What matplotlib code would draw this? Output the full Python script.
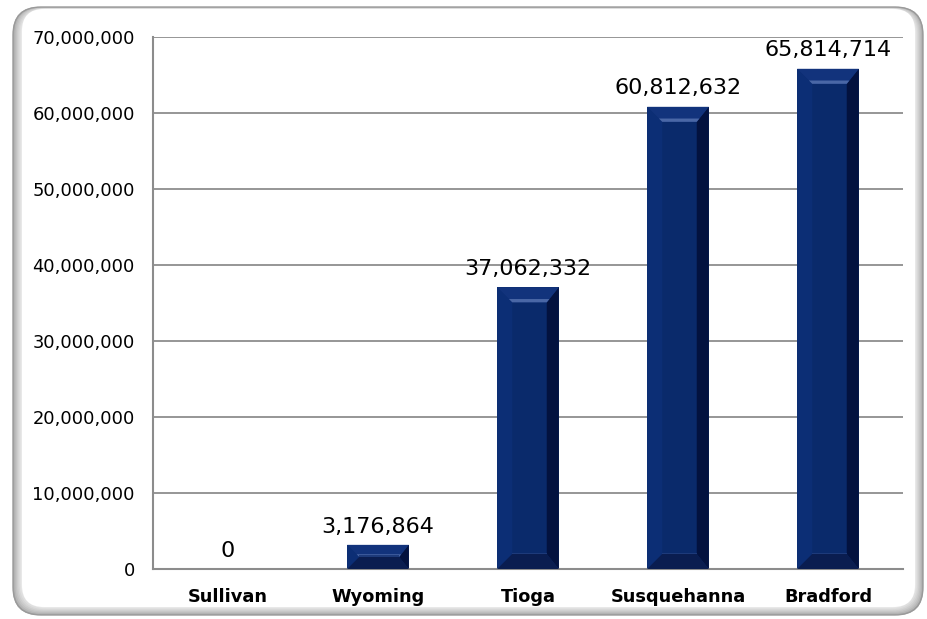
import matplotlib
matplotlib.use("Agg")
import matplotlib.pyplot as plt
from matplotlib.patches import FancyBboxPatch, Polygon
from matplotlib.ticker import FuncFormatter, MultipleLocator

counties = ["Sullivan", "Wyoming", "Tioga", "Susquehanna", "Bradford"]
values = [0, 3176864, 37062332, 60812632, 65814714]
y_max = 70000000
y_step = 10000000

W, H, DPI = 927, 619, 100
plt.rcParams["font.family"] = ["DejaVu Sans"]

fig = plt.figure(figsize=(W / DPI, H / DPI), dpi=DPI)
fig.patch.set_facecolor("white")

# Rounded panel with a soft grey bevel on the sides and bottom
bg = fig.add_axes([0, 0, 1, 1], zorder=0)
bg.set_xlim(0, W)
bg.set_ylim(H, 0)
bg.axis("off")
shades = ["#a8a8a8", "#b6b6b6", "#c2c2c2", "#cccccc", "#d6d6d6", "#dfdfdf", "#e8e8e8", "#f2f2f2"]
outer = (13, 7, 923, 615)
inner = (22, 9, 915, 607)
n = len(shades)
for i, c in enumerate(shades):
    t = i / (n - 1)
    x0 = outer[0] + (inner[0] - outer[0]) * t
    y0 = outer[1] + (inner[1] - outer[1]) * t
    x1 = outer[2] + (inner[2] - outer[2]) * t
    y1 = outer[3] + (inner[3] - outer[3]) * t
    bg.add_patch(FancyBboxPatch((x0, y0), x1 - x0, y1 - y0,
                                boxstyle="round,pad=0,rounding_size=26",
                                facecolor=c, edgecolor="none"))
bg.add_patch(FancyBboxPatch((outer[0], outer[1]), outer[2] - outer[0], outer[3] - outer[1],
                            boxstyle="round,pad=0,rounding_size=28",
                            facecolor="none", edgecolor="#9a9a9a", linewidth=1.0))
bg.add_patch(FancyBboxPatch((inner[0], inner[1]), inner[2] - inner[0], inner[3] - inner[1],
                            boxstyle="round,pad=0,rounding_size=22",
                            facecolor="white", edgecolor="none"))

# Plot area
ax = fig.add_axes([153 / W, 1 - 569 / H, 750 / W, 532 / H], zorder=1)
ax.set_facecolor("none")
ax.set_xlim(-0.5, len(counties) - 0.5)
ax.set_ylim(0, y_max)
ax.yaxis.set_major_locator(MultipleLocator(y_step))
ax.yaxis.set_major_formatter(FuncFormatter(lambda v, p: f"{int(v):,}"))
ax.grid(axis="y", color="#969696", linewidth=1.4, zorder=0)
ax.set_axisbelow(True)
for s in ["top", "right"]:
    ax.spines[s].set_visible(False)
ax.spines["left"].set_color("#8c8c8c")
ax.spines["left"].set_linewidth(1.5)
ax.spines["bottom"].set_color("#8c8c8c")
ax.spines["bottom"].set_linewidth(1.5)
ax.tick_params(axis="y", length=0, pad=13, labelsize=12.9, labelcolor="black")
ax.tick_params(axis="x", length=0, pad=14, labelsize=12.8)
ax.set_xticks(range(len(counties)))
ax.set_xticklabels(counties, fontweight="bold")

bars = ax.bar(range(len(counties)), values, width=0.41, color="#0a2a6b",
              edgecolor="none", zorder=2)

# Bevelled face on each bar, built from the bar's own extent
fig.canvas.draw()
to_disp = ax.transData
to_data = ax.transData.inverted()
for rect in bars:
    h = rect.get_height()
    if h <= 0:
        continue
    (px0, py0) = to_disp.transform((rect.get_x(), 0))
    (px1, py1) = to_disp.transform((rect.get_x() + rect.get_width(), h))
    b = min(15.0, (py1 - py0) / 2.0, (px1 - px0) / 2.0)
    br = b * 0.8

    def poly(pts, color, z=3):
        ax.add_patch(Polygon([to_data.transform(p) for p in pts], closed=True,
                             facecolor=color, edgecolor="none", zorder=z))

    # left and right sides
    poly([(px0, py0), (px0 + b, py0 + b), (px0 + b, py1 - b), (px0, py1)], "#0c2e75")
    poly([(px1, py0), (px1 - br, py0 + b), (px1 - br, py1 - b), (px1, py1)], "#03123f")
    # top and bottom facets
    poly([(px0, py1), (px1, py1), (px1 - br, py1 - b), (px0 + b, py1 - b)], "#12337c")
    poly([(px0, py0), (px1, py0), (px1 - br, py0 + b), (px0 + b, py0 + b)], "#0a1d50")
    # light edge where the top facet meets the face
    hl = b * 0.22
    poly([(px0 + b - hl, py1 - b + hl), (px1 - br + hl * 0.8, py1 - b + hl),
          (px1 - br, py1 - b), (px0 + b, py1 - b)], "#4a67a6", z=4)
    poly([(px0 + b, py0 + b), (px1 - br, py0 + b), (px1 - br, py0 + b + 1.5),
          (px0 + b, py0 + b + 1.5)], "#1d3a7a", z=4)

for i, v in enumerate(values):
    ax.annotate(f"{v:,}", (i, v), xytext=(0, 6), textcoords="offset points",
                ha="center", va="bottom", fontsize=16, color="black", zorder=5)

fig.savefig("out.png", dpi=DPI, facecolor="white")
